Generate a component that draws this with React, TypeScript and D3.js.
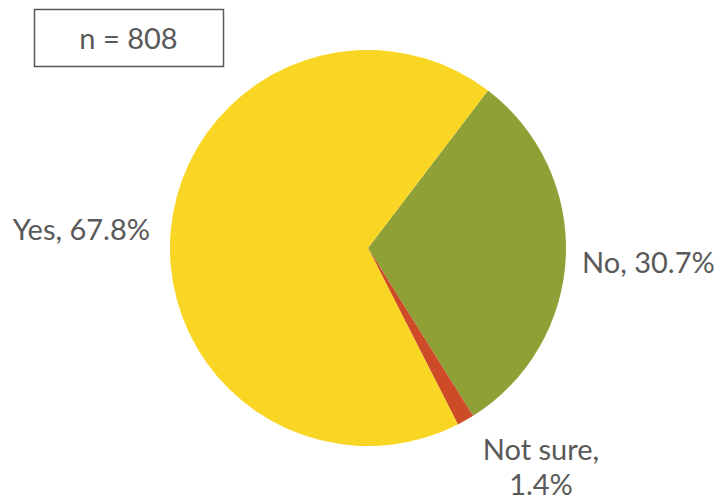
import React from "react";
import * as d3 from "d3";

const categories = ["No", "Not sure", "Yes"];
const values = [30.7, 1.4, 67.8];
const colors = ["#8FA136", "#CD4B26", "#F9D524"];
const sampleLabel = "n = 808";

export default function App() {
  const W = 720, H = 500;
  const cx = 368, cy = 248, r = 198;
  const startDeg = 37.3;
  const pie = d3.pie<number>().sort(null).startAngle((startDeg * Math.PI) / 180).endAngle(((startDeg + 360) * Math.PI) / 180);
  const arcs = pie(values);
  const arc = d3.arc<d3.PieArcDatum<number>>().innerRadius(0).outerRadius(r);
  const font = "Lato, 'Open Sans', sans-serif";
  const tc = "#595959";
  const fs = 29;
  return (
    <svg width={W} height={H} style={{ position: "absolute", left: 0, top: 0 }}>
      <rect x={0} y={0} width={W} height={H} fill="#fff" />
      <g transform={`translate(${cx},${cy})`}>
        {arcs.map((a, i) => (
          <path key={i} d={arc(a) || ""} fill={colors[i]} />
        ))}
      </g>
      <rect x={34.5} y={9.5} width={189} height={57} fill="#fff" stroke={tc} strokeWidth={1.5} />
      <text x={128.5} y={49} textAnchor="middle" fontFamily={font} fontSize={fs} fill={tc}>{sampleLabel}</text>
      <text x={150} y={240} textAnchor="end" fontFamily={font} fontSize={fs} fill={tc}>{`${categories[2]}, ${values[2]}%`}</text>
      <text x={582} y={273} textAnchor="start" fontFamily={font} fontSize={fs} fill={tc}>{`${categories[0]}, ${values[0]}%`}</text>
      <text x={541} y={460} textAnchor="middle" fontFamily={font} fontSize={fs} fill={tc}>{`${categories[1]},`}</text>
      <text x={541} y={495} textAnchor="middle" fontFamily={font} fontSize={fs} fill={tc}>{`${values[1]}%`}</text>
    </svg>
  );
}
